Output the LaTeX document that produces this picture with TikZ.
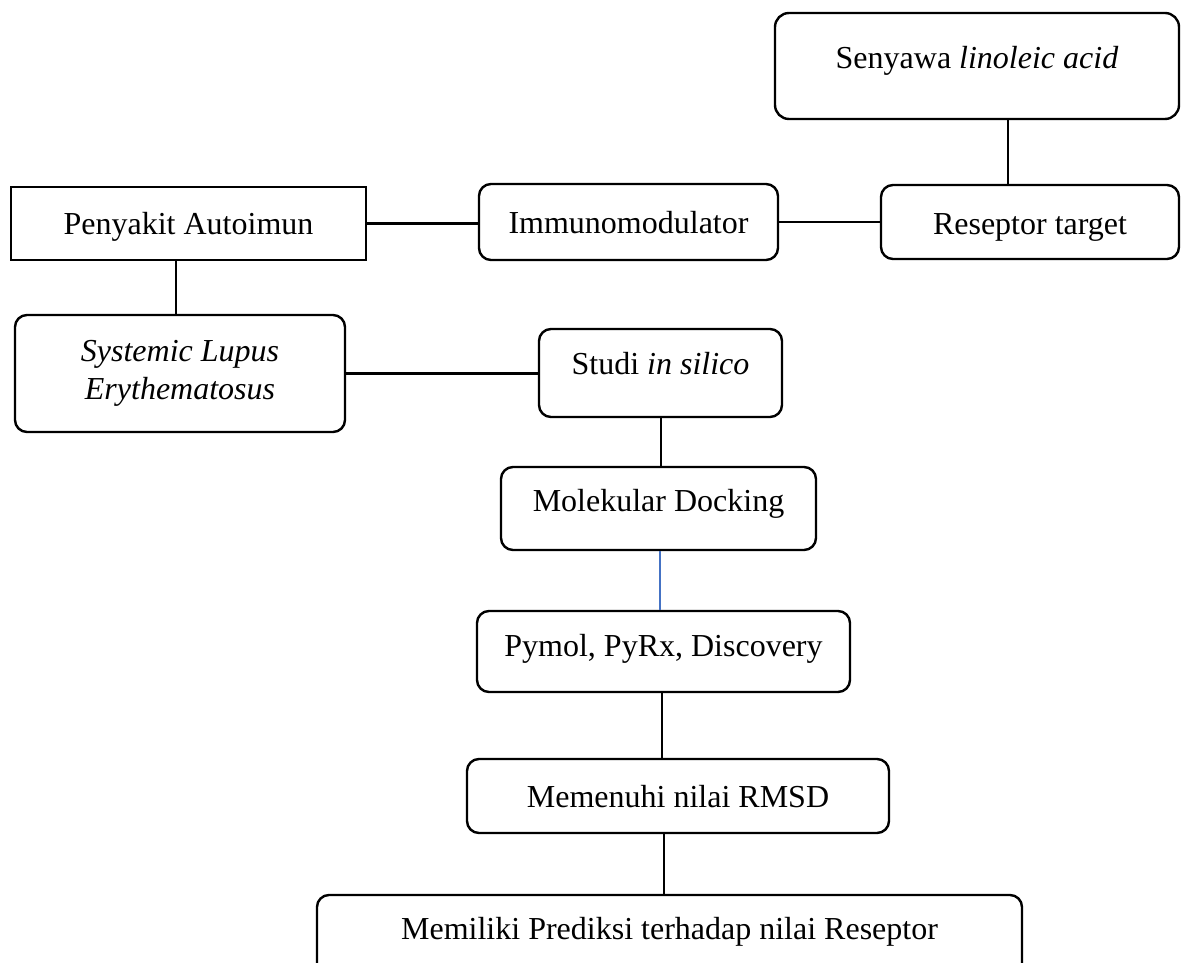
\documentclass[tikz,border=0pt]{standalone}
\usepackage{fontspec}
\setmainfont{Liberation Serif}
\definecolor{lineblue}{RGB}{68,114,196}
\begin{document}
\begin{tikzpicture}[x=0.5pt,y=-0.5pt,
  box/.style={draw, line width=1.2pt, rounded corners=6pt, inner sep=0pt},
  sqbox/.style={draw, line width=1.2pt, inner sep=0pt},
  txt/.style={inner sep=0pt, anchor=base, font=\fontsize{16}{19}\selectfont},
  link/.style={line width=1.1pt}]
\useasboundingbox (0,0) rectangle (1181,962);
\clip (0,0) rectangle (1181,962);

% boxes
\node[box, rounded corners=7pt, minimum width=202pt, minimum height=53pt] (sen) at (977,66) {};
\node[txt] (senT) at (977,69) {Senyawa \textit{linoleic acid}};

\node[box, minimum width=149pt, minimum height=37pt] (res) at (1030,222) {};
\node[txt] (resT) at (1030,235) {Reseptor target};

\node[box, minimum width=149.5pt, minimum height=38pt] (imm) at (628.5,222) {};
\node[txt] (immT) at (628.5,234) {Immunomodulator};

\node[sqbox, minimum width=177.5pt, minimum height=36.5pt] (pen) at (188.5,223.5) {};
\node[txt] (penT) at (188.5,235) {Penyakit Autoimun};

\node[box, minimum width=165pt, minimum height=58.5pt, align=center,
      font=\fontsize{16}{19}\selectfont\itshape] (sle) at (180,373.5) {Systemic Lupus\\Erythematosus};

\node[box, minimum width=121.5pt, minimum height=44pt] (stu) at (660.5,373) {};
\node[txt] (stuT) at (660.5,374) {Studi \textit{in silico}};

\node[box, minimum width=157.5pt, minimum height=41.5pt] (mol) at (658.5,508.5) {};
\node[txt] (molT) at (658.5,511) {Molekular Docking};

\node[box, minimum width=186.5pt, minimum height=40.5pt] (pym) at (663.5,651.5) {};
\node[txt] (pymT) at (663.5,656) {Pymol, PyRx, Discovery};

\node[box, minimum width=211pt, minimum height=37pt] (rms) at (678,796) {};
\node[txt] (rmsT) at (678,807) {Memenuhi nilai RMSD};

\node[box, minimum width=352.5pt, minimum height=40pt] (mem) at (669.5,935) {};
\node[txt] (memT) at (669.5,939) {Memiliki Prediksi terhadap nilai Reseptor};

% connectors
\coordinate (xa) at (1008,0);
\coordinate (xb) at (176,0);
\coordinate (xc) at (661,0);
\coordinate (xd) at (660,0);
\coordinate (xe) at (662,0);
\coordinate (xf) at (664,0);
\draw[link] (sen.south -| xa) -- (res.north -| xa);
\draw[link] (pen.east) -- (imm.west |- pen.east);
\draw[link] (imm.east) -- (res.west |- imm.east);
\draw[link] (pen.south -| xb) -- (sle.north -| xb);
\draw[link] (sle.east) -- (stu.west |- sle.east);
\draw[link] (stu.south -| xc) -- (mol.north -| xc);
\draw[link, draw=lineblue] (mol.south -| xd) -- (pym.north -| xd);
\draw[link] (pym.south -| xe) -- (rms.north -| xe);
\draw[link] (rms.south -| xf) -- (mem.north -| xf);
\end{tikzpicture}
\end{document}
